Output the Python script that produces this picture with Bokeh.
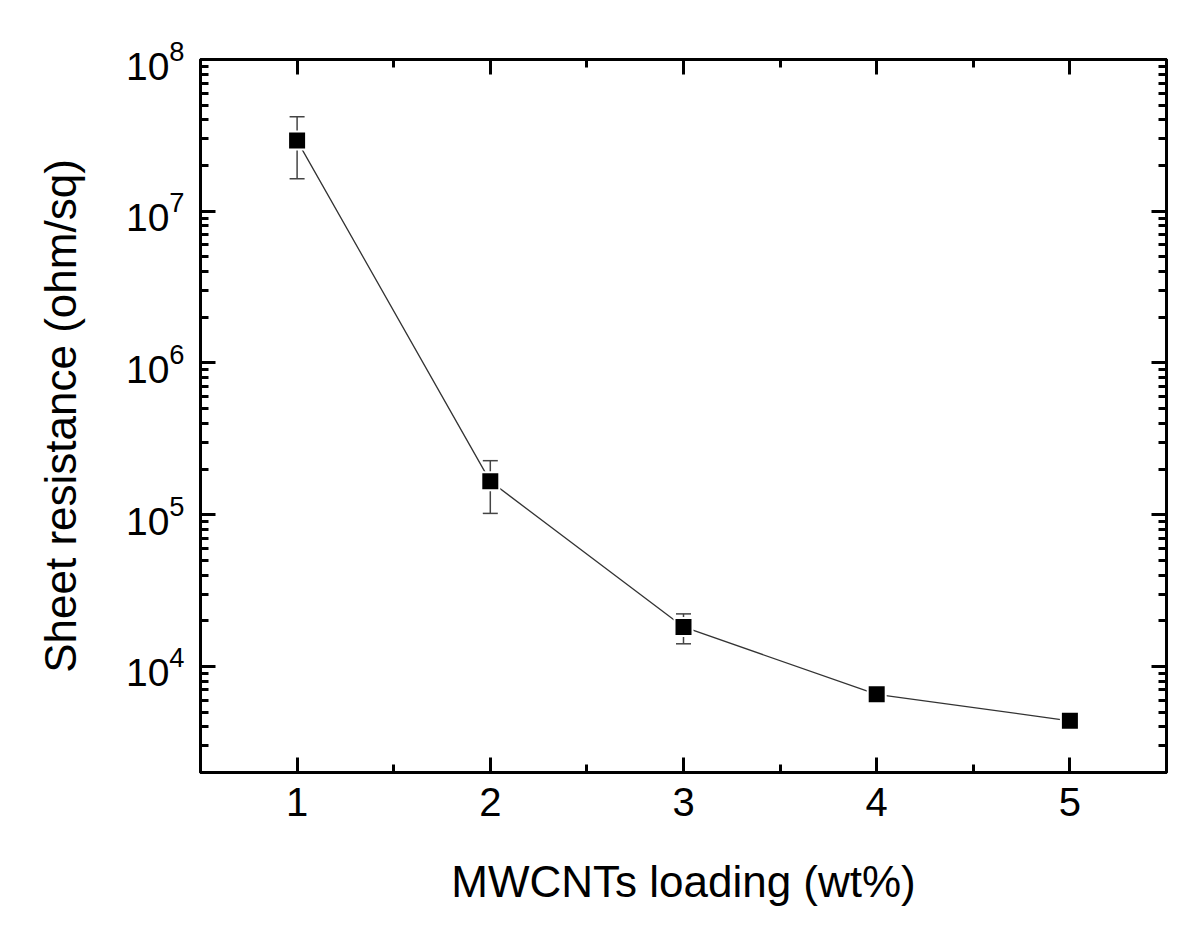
from bokeh.plotting import figure
from bokeh.models import (ColumnDataSource, Whisker, TeeHead, FixedTicker,
                          LinearAxis, LogAxis, CustomJSTickFormatter)
from bokeh.embed import file_html
from bokeh.resources import INLINE

# ---- data ----
loading = [1, 2, 3, 4, 5]
resistance = [2.92e7, 1.66e5, 1.82e4, 6.55e3, 4.38e3]
err_upper = [4.19e7, 2.27e5, 2.22e4, 6.55e3, 4.38e3]
err_lower = [1.64e7, 1.02e5, 1.41e4, 6.55e3, 4.38e3]

x_ticks = [1, 2, 3, 4, 5]
x_minor = [1.5, 2.5, 3.5, 4.5]
y_ticks = [1e4, 1e5, 1e6, 1e7, 1e8]
y_minor = [k * 10 ** n for n in range(3, 8) for k in range(2, 10)]

x_title = "MWCNTs loading (wt%)"
y_title = "Sheet resistance (ohm/sq)"

FONT = "Liberation Sans"

src = ColumnDataSource(dict(x=loading, y=resistance, upper=err_upper, lower=err_lower))

p = figure(width=1184, height=915, x_range=(0.5, 5.5), y_range=(2000, 1e8),
           y_axis_type="log", output_backend="svg", toolbar_location=None,
           min_border_left=200, min_border_top=59, min_border_right=18,
           min_border_bottom=143)
p.grid.visible = False
p.outline_line_color = "black"
p.outline_line_width = 3
p.background_fill_color = "white"
p.border_fill_color = "white"

xt = FixedTicker(ticks=x_ticks, minor_ticks=x_minor)
yt = FixedTicker(ticks=y_ticks, minor_ticks=y_minor)
blank = CustomJSTickFormatter(code="return '';")


def style_axis(ax):
    ax.axis_line_width = 3
    ax.axis_line_color = "black"
    ax.major_tick_in = 15
    ax.major_tick_out = 0
    ax.minor_tick_in = 8
    ax.minor_tick_out = 0
    ax.major_tick_line_width = 3
    ax.minor_tick_line_width = 3
    ax.major_tick_line_color = "black"
    ax.minor_tick_line_color = "black"
    ax.major_label_text_font = FONT
    ax.major_label_text_color = "black"
    ax.axis_label_text_font = FONT
    ax.axis_label_text_font_style = "normal"
    ax.axis_label_text_color = "black"


xa = p.xaxis[0]
xa.ticker = xt
style_axis(xa)
xa.major_label_text_font_size = "40px"
xa.major_label_standoff = 15
xa.axis_label = x_title
xa.axis_label_text_font_size = "44px"
xa.axis_label_standoff = 38

ya = p.yaxis[0]
ya.ticker = yt
style_axis(ya)
ya.major_label_text_font_size = "39px"
ya.major_label_standoff = 16
ya.axis_label = y_title
ya.axis_label_text_font_size = "44px"
ya.axis_label_standoff = 38

top = LinearAxis(ticker=xt, formatter=blank)
style_axis(top)
p.add_layout(top, "above")

right = LogAxis(ticker=yt, formatter=blank)
style_axis(right)
p.add_layout(right, "right")

whisk = Whisker(base="x", upper="upper", lower="lower", source=src,
                line_color="#444444", line_width=1.5,
                upper_head=TeeHead(size=15, line_color="#444444", line_width=1.5),
                lower_head=TeeHead(size=15, line_color="#444444", line_width=1.5))
p.add_layout(whisk)

p.line("x", "y", source=src, line_color="#333333", line_width=1.3)
p.scatter("x", "y", source=src, marker="square", size=18,
          fill_color="black", line_color="white", line_width=2)

open("out.html", "w").write(file_html(p, INLINE))
